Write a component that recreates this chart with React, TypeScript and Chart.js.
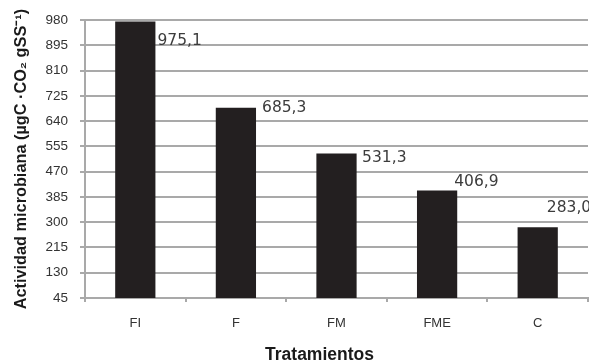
import React, { useEffect, useRef } from 'react';
import { Chart, registerables } from 'chart.js';

Chart.register(...registerables);

// ---- data ----
const categories: string[] = ['FI', 'F', 'FM', 'FME', 'C'];
const actividad: number[] = [975.1, 685.3, 531.3, 406.9, 283.0];
const yMin = 45;
const yMax = 980;
const yStep = 85;
const yTitle = 'Actividad microbiana (µgC ·CO₂ gSS⁻¹)';
const xTitle = 'Tratamientos';

// ---- styling ----
const BAR_COLOR = '#231f20';
const GRID_COLOR = '#a9a9a9';
// label offsets: [dx from bar right edge, dy from bar top] in px
const LABEL_OFFSETS: [number, number][] = [
  [2, 19],
  [6, 0],
  [5.5, 4.5],
  [-3, -8],
  [-11, -19],
];

const fmt = (v: number) => v.toFixed(1).replace('.', ',');

const valueLabels = {
  id: 'valueLabels',
  afterDatasetsDraw(chart: any) {
    const ctx = chart.ctx as CanvasRenderingContext2D;
    const meta = chart.getDatasetMeta(0);
    ctx.save();
    ctx.font = '15.5px "DejaVu Sans"';
    ctx.fillStyle = '#3c3c3c';
    ctx.textAlign = 'left';
    ctx.textBaseline = 'middle';
    meta.data.forEach((bar: any, i: number) => {
      const { x, y, width } = bar.getProps(['x', 'y', 'width'], true);
      const [dx, dy] = LABEL_OFFSETS[i] || [2, 0];
      ctx.fillText(fmt(actividad[i]), x + width / 2 + dx, y + dy);
    });
    ctx.restore();
  },
};

const xTitlePlugin = {
  id: 'xTitlePlugin',
  afterDraw(chart: any) {
    const ctx = chart.ctx as CanvasRenderingContext2D;
    const { left, right } = chart.chartArea;
    ctx.save();
    ctx.font = 'bold 17.5px "Liberation Sans"';
    ctx.fillStyle = '#1a1a1a';
    ctx.textAlign = 'center';
    ctx.textBaseline = 'alphabetic';
    ctx.fillText(xTitle, (left + right) / 2 - 17, chart.height - 1);
    ctx.restore();
  },
};

export default function App() {
  const ref = useRef<HTMLCanvasElement | null>(null);

  useEffect(() => {
    if (!ref.current) return;
    const chart = new Chart(ref.current, {
      type: 'bar',
      data: {
        labels: categories,
        datasets: [
          {
            data: actividad,
            backgroundColor: BAR_COLOR,
            borderWidth: 0,
            barPercentage: 0.4,
            categoryPercentage: 1,
          },
        ],
      },
      options: {
        animation: false,
        responsive: false,
        maintainAspectRatio: false,
        layout: { padding: { top: 19, right: 1, left: 0, bottom: 0 } },
        plugins: {
          legend: { display: false },
          tooltip: { enabled: false },
        },
        scales: {
          x: {
            grid: {
              display: true,
              drawOnChartArea: false,
              drawTicks: true,
              tickLength: 4,
              color: GRID_COLOR,
              lineWidth: 2,
            },
            border: { display: true, color: GRID_COLOR, width: 2 },
            ticks: {
              color: '#333333',
              font: { family: '"Liberation Sans"', size: 13 },
              padding: 14,
            },
            afterFit: (scale: any) => {
              scale.height = 63;
            },
          },
          y: {
            min: yMin,
            max: yMax,
            grid: {
              color: GRID_COLOR,
              lineWidth: 2,
              drawTicks: true,
              tickLength: 5,
            },
            border: { display: true, color: GRID_COLOR, width: 2 },
            ticks: {
              stepSize: yStep,
              color: '#333333',
              font: { family: '"Liberation Sans"', size: 13.5 },
              padding: 12,
            },
            title: {
              display: true,
              text: yTitle,
              color: '#1a1a1a',
              font: { family: '"Liberation Sans"', size: 16.3, weight: 'bold' },
              padding: { top: 12, bottom: 0 },
            },
            afterFit: (scale: any) => {
              scale.width = 85;
            },
          },
        },
      },
      plugins: [valueLabels, xTitlePlugin],
    } as any);
    return () => chart.destroy();
  }, []);

  return (
    <div style={{ position: 'fixed', left: 0, top: 0, width: 589, height: 361, background: '#ffffff' }}>
      <canvas ref={ref} width={589} height={361} />
    </div>
  );
}
